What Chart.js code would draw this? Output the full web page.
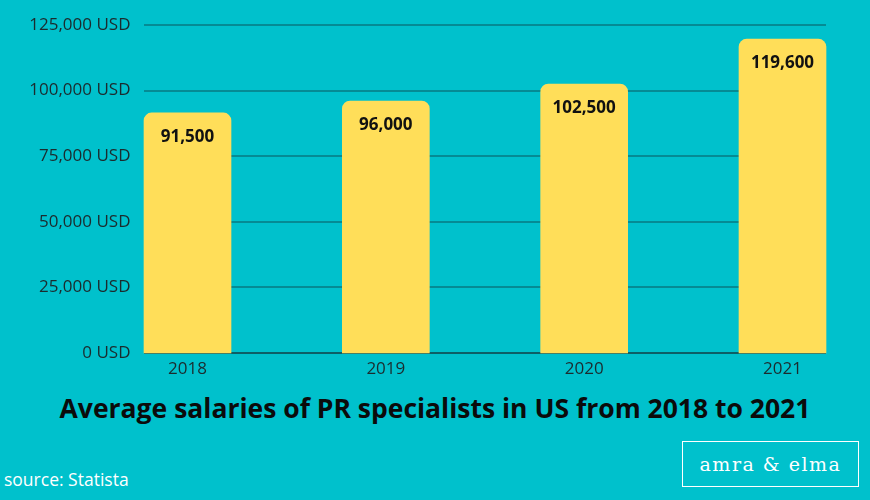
<!DOCTYPE html>
<html>
<head>
<meta charset="utf-8">
<script src="https://cdn.jsdelivr.net/npm/chart.js@4"></script>
<style>
  html, body { margin: 0; padding: 0; }
  body { width: 870px; height: 500px; background: #00c1cc; position: relative; overflow: hidden; font-family: "Open Sans", sans-serif; }
  #wrap { position: absolute; left: 0; top: 0; width: 870px; height: 385px; }
  #title { position: absolute; left: 0; width: 870px; top: 390px; text-align: center; font-weight: bold; font-size: 26.5px; color: #0b0b0b; }
  #source { position: absolute; left: 4px; top: 467px; font-size: 17.5px; color: #ffffff; }
  #logo { position: absolute; left: 682px; top: 441px; width: 175px; height: 44px; border: 1px solid #ffffff; color: #ffffff;
          font-family: "DejaVu Serif", "Liberation Serif", serif; font-size: 19px; letter-spacing: 1.5px; text-align: center; line-height: 44px; }
</style>
</head>
<body>
<div id="wrap"><canvas id="chart" width="870" height="385"></canvas></div>
<div id="title">Average salaries of PR specialists in US from 2018 to 2021</div>
<div id="source">source: Statista</div>
<div id="logo">amra &amp; elma</div>
<script>
var years = ['2018', '2019', '2020', '2021'];
var salaries = [91500, 96000, 102500, 119600];
var tickValues = [0, 25000, 50000, 75000, 100000, 125000];

// grid lines stretch past the first and last bar
var gridPlugin = {
  id: 'grid',
  beforeDatasetsDraw: function(chart) {
    var ctx = chart.ctx, y = chart.scales.y, area = chart.chartArea;
    var l = area.left - 43.5, r = area.right + 43.5;
    ctx.save();
    tickValues.forEach(function(v) {
      var py = Math.round(y.getPixelForValue(v));
      ctx.strokeStyle = v === 0 ? '#0d5f66' : '#058b94';
      ctx.lineWidth = 2;
      ctx.beginPath();
      ctx.moveTo(l, py);
      ctx.lineTo(r, py);
      ctx.stroke();
    });
    ctx.restore();
  }
};

var labelPlugin = {
  id: 'barLabels',
  afterDatasetsDraw: function(chart) {
    var ctx = chart.ctx;
    var meta = chart.getDatasetMeta(0);
    ctx.save();
    ctx.font = 'bold 17px "Open Sans"';
    ctx.fillStyle = '#111111';
    ctx.textAlign = 'center';
    ctx.textBaseline = 'middle';
    meta.data.forEach(function(bar, i) {
      ctx.fillText(salaries[i].toLocaleString('en-US'), bar.x, bar.y + 24);
    });
    ctx.restore();
  }
};

new Chart(document.getElementById('chart'), {
  type: 'bar',
  data: {
    labels: years,
    datasets: [{
      data: salaries,
      backgroundColor: '#ffde59',
      barThickness: 87,
      borderRadius: { topLeft: 8, topRight: 8, bottomLeft: 0, bottomRight: 0 },
      borderSkipped: false,
      clip: false
    }]
  },
  options: {
    responsive: false,
    animation: false,
    layout: { padding: { left: 0, right: 87.5, top: 25, bottom: 0 } },
    plugins: { legend: { display: false }, tooltip: { enabled: false } },
    scales: {
      x: {
        offset: false,
        grid: { display: false, drawTicks: false },
        border: { display: false },
        ticks: { color: '#1b2b2e', font: { family: 'Open Sans', size: 17 }, padding: 6 },
        afterFit: function(s) { s.height = 32; }
      },
      y: {
        min: 0,
        max: 125000,
        afterBuildTicks: function(s) { s.ticks = tickValues.map(function(v) { return { value: v }; }); },
        grid: { display: false, drawTicks: false },
        border: { display: false },
        ticks: {
          color: '#1b2b2e',
          font: { family: 'Open Sans', size: 17 },
          padding: 57,
          callback: function(v) { return v.toLocaleString('en-US') + ' USD'; }
        },
        // tick padding also pads top/bottom, undo that
        afterFit: function(s) { s.width = 187.5; s.paddingTop = 0; s.paddingBottom = 0; }
      }
    }
  },
  plugins: [gridPlugin, labelPlugin]
});
</script>
</body>
</html>
